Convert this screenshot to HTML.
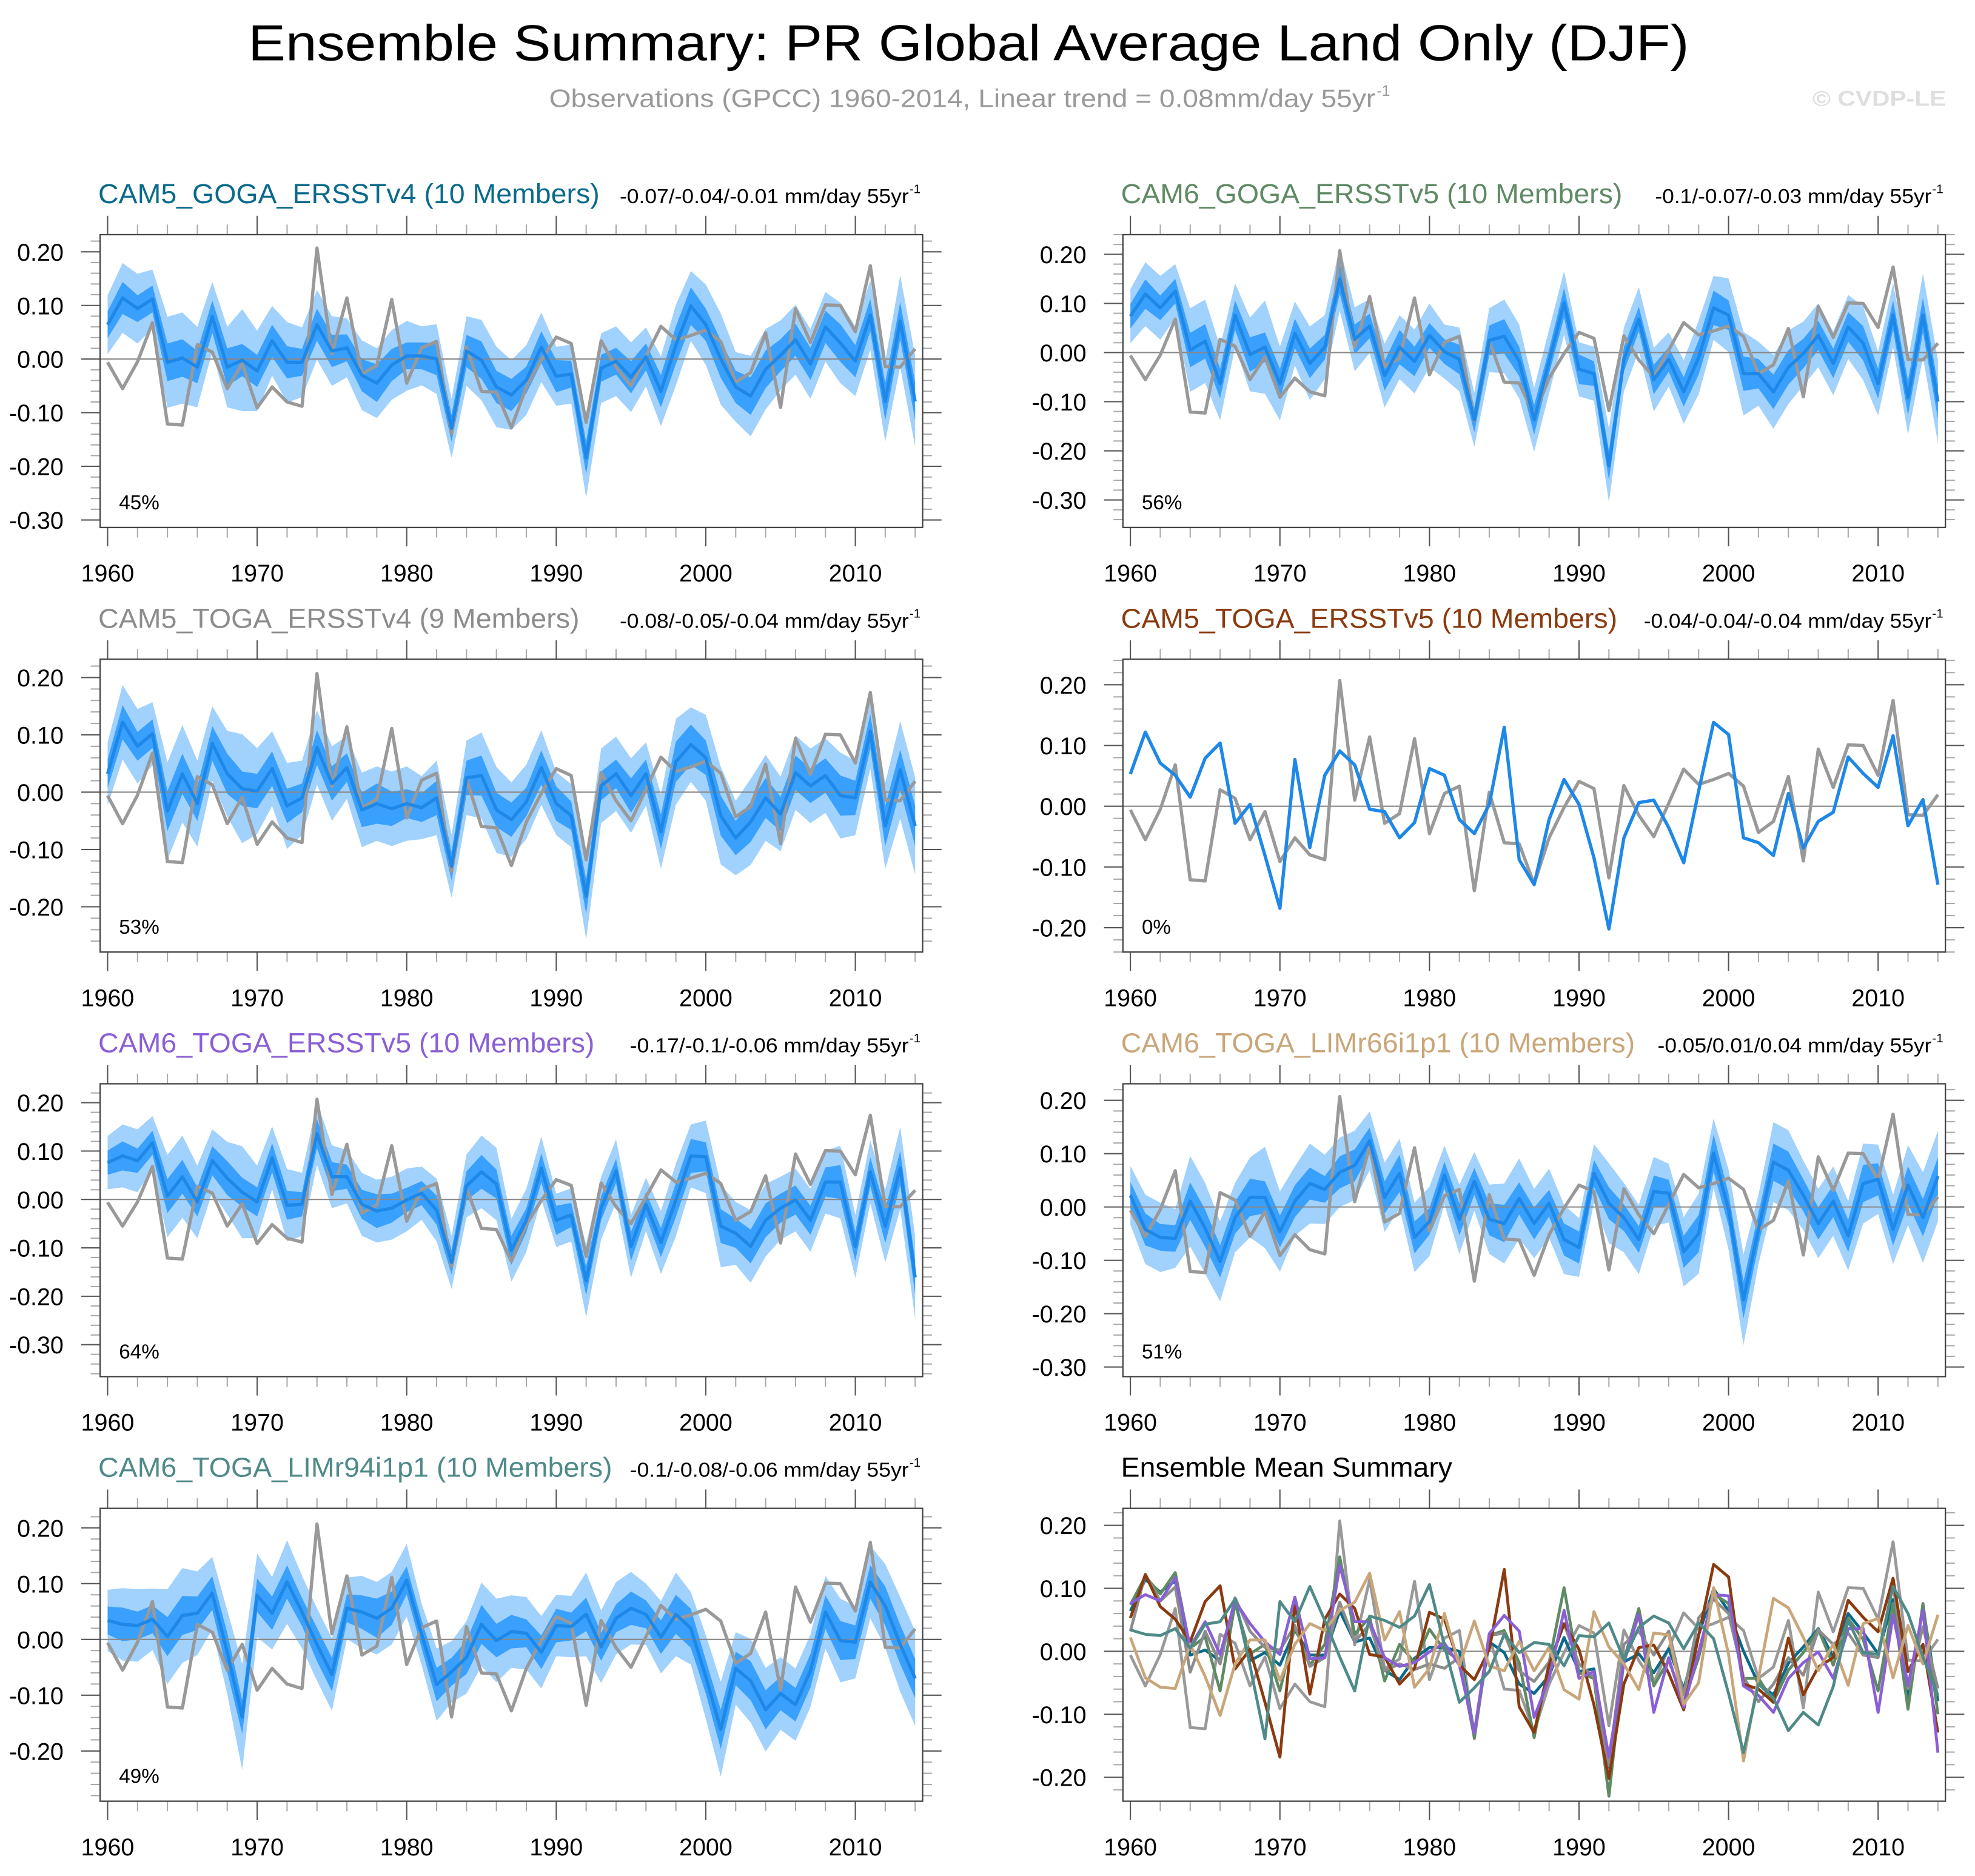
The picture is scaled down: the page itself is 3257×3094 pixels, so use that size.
<!DOCTYPE html>
<html><head><meta charset="utf-8"><title>Ensemble Summary: PR Global Average Land Only (DJF)</title>
<style>html,body{margin:0;padding:0;background:#fff;}svg{display:block;}text{font-family:"Liberation Sans",Arial,sans-serif;}</style>
</head><body>
<svg id="chart" xmlns="http://www.w3.org/2000/svg" width="3257" height="3094" viewBox="0 0 1568 1489.5" preserveAspectRatio="none">
<rect x="0" y="0" width="1568" height="1489.5" fill="#fff"/>
<text x="197" y="48" font-size="40" textLength="1144" lengthAdjust="spacingAndGlyphs" fill="#000">Ensemble Summary: PR Global Average Land Only (DJF)</text>
<text x="436" y="85" font-size="20" textLength="656" lengthAdjust="spacingAndGlyphs" fill="#999">Observations (GPCC) 1960-2014, Linear trend = 0.08mm/day 55yr</text>
<text x="1093" y="76" font-size="12" fill="#999">-1</text>
<text x="1439" y="84" font-size="17" font-weight="bold" textLength="106" lengthAdjust="spacingAndGlyphs" fill="#dedede">© CVDP-LE</text>
<g id="panels"></g>
</svg>
<script>
const years = [];
for (let y = 1960; y <= 2014; y++) years.push(y);
const obs = [-0.006,-0.055,-0.005,0.068,-0.121,-0.123,0.027,0.013,-0.055,-0.009,-0.091,-0.052,-0.08,-0.088,0.207,0.01,0.114,-0.028,-0.012,0.111,-0.045,0.021,0.033,-0.139,0.023,-0.06,-0.062,-0.128,-0.052,-0.002,0.041,0.029,-0.118,0.034,-0.015,-0.05,0.005,0.061,0.036,0.044,0.054,0.033,-0.043,-0.025,0.049,-0.09,0.094,0.031,0.101,0.1,0.051,0.174,-0.014,-0.015,0.019];
const meanCam5GogaV4 = [0.064,0.114,0.094,0.112,-0.006,0.002,-0.015,0.079,-0.015,-0.002,-0.022,0.034,-0.006,-0.006,0.064,0.015,0.021,-0.03,-0.045,-0.011,0.006,0.006,0,-0.129,0.015,-0.002,-0.052,-0.067,-0.039,0.022,-0.032,-0.028,-0.184,-0.017,-0.004,-0.034,0.004,-0.06,0.026,0.099,0.064,0,-0.052,-0.069,-0.019,0.007,0.036,-0.009,0.06,0.03,-0.004,0.082,-0.079,0.071,-0.079];
const meanCam6GogaV5 = [0.074,0.119,0.091,0.125,0.005,0.023,-0.063,0.076,-0.004,0.011,-0.063,0.039,-0.022,0.011,0.15,0.027,0.054,-0.047,0.011,-0.018,0.035,0.002,-0.014,-0.137,0.025,0.033,-0.018,-0.137,-0.018,0.101,-0.034,-0.043,-0.23,-0.014,0.068,-0.055,-0.014,-0.08,-0.01,0.091,0.076,-0.043,-0.043,-0.08,-0.03,-0.002,0.035,-0.022,0.052,0.019,-0.063,0.076,-0.092,0.076,-0.1];
const meanCam5TogaV4 = [0.032,0.122,0.08,0.102,-0.033,0.032,-0.02,0.085,0.032,0.006,0.002,0.041,-0.024,-0.01,0.078,0.015,0.043,-0.031,-0.02,-0.029,-0.02,-0.027,-0.01,-0.129,0.025,0.029,-0.031,-0.048,-0.017,0.043,-0.02,-0.041,-0.182,0.011,0.032,-0.006,0.032,-0.069,0.053,0.083,0.06,-0.041,-0.08,-0.052,-0.01,-0.038,0.034,0.011,0.029,-0.006,-0.01,0.106,-0.059,0.039,-0.059];
const meanCam5TogaV5 = [0.053,0.122,0.071,0.051,0.015,0.079,0.104,-0.028,0.003,-0.081,-0.168,0.077,-0.068,0.051,0.091,0.068,-0.005,-0.009,-0.052,-0.027,0.062,0.051,-0.022,-0.045,0.003,0.13,-0.088,-0.129,-0.022,0.044,0.003,-0.085,-0.202,-0.052,0.006,0.01,-0.035,-0.093,0.025,0.138,0.118,-0.052,-0.06,-0.081,0.021,-0.069,-0.025,-0.01,0.081,0.054,0.031,0.116,-0.032,0.011,-0.129];
const meanCam6TogaV5 = [0.076,0.09,0.08,0.117,0.007,0.047,-0.005,0.08,0.044,0.015,-0.005,0.086,-0.012,-0.01,0.136,0.047,0.047,-0.01,-0.024,-0.018,-0.001,0.013,-0.022,-0.13,0.028,0.057,0.032,-0.105,-0.043,0.065,-0.043,-0.032,-0.168,-0.018,0.059,-0.097,-0.01,-0.089,-0.001,0.09,0.088,-0.055,-0.07,-0.097,-0.043,-0.018,-0.001,-0.043,0.036,0.036,-0.097,0.057,-0.055,0.065,-0.161];
const meanLim66 = [0.022,-0.042,-0.057,-0.059,0.011,-0.04,-0.102,-0.02,0.018,0.018,-0.046,0.011,0.044,0.033,0.065,0.078,0.124,0.018,0.063,-0.057,-0.027,0.06,-0.023,0.048,-0.023,-0.031,0.016,-0.031,0.007,-0.061,-0.076,0.063,0.007,-0.02,-0.061,0.029,0.026,-0.084,-0.05,0.101,-0.005,-0.174,-0.042,0.084,0.069,0.022,-0.031,0.011,-0.054,0.044,0.052,-0.042,0.041,-0.02,0.058];
const meanLim94 = [0.034,0.027,0.025,0.036,0.005,0.043,0.047,0.083,-0.023,-0.139,0.079,0.047,0.103,0.049,-0.009,-0.063,0.056,0.049,0.038,0.056,0.106,0.009,-0.081,-0.058,-0.032,0.027,-0.002,0.014,0.011,-0.023,0.025,0.023,0.045,-0.013,0.038,0.056,0.045,0.004,0.045,0.02,-0.067,-0.161,-0.052,-0.074,-0.126,-0.097,-0.117,-0.056,0.049,-0.002,-0.005,0.103,0.06,-0.009,-0.07];
const darkHW = [0.025,0.03,0.025,0.025,0.035,0.035,0.03,0.03,0.035,0.03,0.03,0.03,0.03,0.025,0.03,0.03,0.025,0.03,0.035,0.03,0.025,0.025,0.03,0.025,0.03,0.035,0.03,0.03,0.025,0.03,0.03,0.025,0.03,0.025,0.025,0.03,0.025,0.03,0.035,0.035,0.03,0.035,0.03,0.035,0.035,0.03,0.03,0.03,0.03,0.035,0.03,0.03,0.035,0.035,0.035];
const lightHW = [0.055,0.065,0.065,0.055,0.085,0.085,0.075,0.065,0.075,0.095,0.075,0.065,0.075,0.065,0.065,0.065,0.055,0.065,0.065,0.065,0.065,0.055,0.065,0.055,0.065,0.075,0.075,0.065,0.065,0.065,0.055,0.055,0.075,0.065,0.065,0.065,0.055,0.065,0.075,0.065,0.075,0.085,0.065,0.075,0.075,0.065,0.065,0.065,0.065,0.075,0.065,0.065,0.075,0.085,0.085];
const panelTitles = ["CAM5_GOGA_ERSSTv4 (10 Members)","CAM6_GOGA_ERSSTv5 (10 Members)","CAM5_TOGA_ERSSTv4 (9 Members)","CAM5_TOGA_ERSSTv5 (10 Members)","CAM6_TOGA_ERSSTv5 (10 Members)","CAM6_TOGA_LIMr66i1p1 (10 Members)","CAM6_TOGA_LIMr94i1p1 (10 Members)","Ensemble Mean Summary"];
const panelTrends = ["-0.07/-0.04/-0.01","-0.1/-0.07/-0.03","-0.08/-0.05/-0.04","-0.04/-0.04/-0.04","-0.17/-0.1/-0.06","-0.05/0.01/0.04","-0.1/-0.08/-0.06",""];
const panelPercents = ["45%","56%","53%","0%","64%","51%","49%",""];
const yTickLabels = [0.2,0.1,0,-0.1,-0.2,-0.3];
const xTickLabels = [1960,1970,1980,1990,2000,2010];
const panelMeans = [meanCam5GogaV4,meanCam6GogaV5,meanCam5TogaV4,meanCam5TogaV5,meanCam6TogaV5,meanLim66,meanLim94];

const colors = ["#0b6a8c","#5e8a64","#8c8c8c","#8b3a0f","#8a5fd6","#c9a679","#4e8a88"];
const titleW = [398,398,382,394,394,408,408,263];
const trendStart = [492,1314,492,1305,500,1316,500];
const ranges = [[-0.314,0.232],[-0.356,0.24],[-0.279,0.232],[-0.24,0.242],[-0.366,0.239],[-0.318,0.231],[-0.29,0.235],[-0.238,0.227]];
const NS = "http://www.w3.org/2000/svg";
const root = document.getElementById('panels');
function mk(tag, attrs, parent){const e=document.createElementNS(NS,tag);for(const k in attrs)e.setAttribute(k,attrs[k]);(parent||root).appendChild(e);return e;}

for (let p = 0; p < 8; p++) {
  const col = p % 2, row = Math.floor(p / 2);
  const x0 = col ? 891.5 : 79.5, x1 = col ? 1544.5 : 732.5;
  const top = 186.3 + row * 337.1, bot = top + 232.5;
  const ymin = ranges[p][0], ymax = ranges[p][1];
  const sx = yr => x0 + (yr - 1959.5) / 55 * (x1 - x0);
  const sy = v => bot - (v - ymin) / (ymax - ymin) * (bot - top);
  const g = mk('g', {});
  
  

  const t = mk('text', {x: col ? 890 : 78, y: top - 25, 'font-size': 22, fill: p === 7 ? '#000' : colors[p], textLength: titleW[p], lengthAdjust: 'spacingAndGlyphs'}, g);
  t.textContent = panelTitles[p];
  
  
  if (panelTrends[p]) {
    const tEnd = x1 - 11;
    const tr = mk('text', {x: trendStart[p], y: top - 25, 'font-size': 16, fill: '#000', textLength: tEnd - trendStart[p], lengthAdjust: 'spacingAndGlyphs'}, g);
    tr.textContent = panelTrends[p] + ' mm/day 55yr';
    
    
    const sup = mk('text', {x: tEnd + 0.5, y: top - 33, 'font-size': 10, fill: '#000'}, g);
    sup.textContent = '-1';
    
    
  }

  for (let k = Math.ceil(ymin / 0.02 - 1e-6); k <= Math.floor(ymax / 0.02 + 1e-6); k++) {
    const v = k * 0.02, yy = sy(v);
    const major = Math.abs(k % 5) === 0;
    const L = major ? 15 : 7.5, c = major ? '#555' : '#aaa';
    mk('line', {x1: x0 - L, x2: x0, y1: yy, y2: yy, stroke: c, 'stroke-width': 1}, g);
    mk('line', {x1: x1, x2: x1 + L, y1: yy, y2: yy, stroke: c, 'stroke-width': 1}, g);
  }
  yTickLabels.forEach(v => {
    if (v < ymin || v > ymax) return;
    const lb = mk('text', {x: x0 - 29, y: sy(v) + 7, 'font-size': 19, 'text-anchor': 'end', fill: '#000'}, g);
    lb.textContent = v.toFixed(2);
    
    
  });
  for (let yr = 1960; yr <= 2014; yr += 2) {
    const xx = sx(yr), major = (yr % 10 === 0);
    const L = major ? 15 : 8, c = major ? '#555' : '#aaa';
    mk('line', {x1: xx, x2: xx, y1: bot, y2: bot + L, stroke: c, 'stroke-width': 1}, g);
    mk('line', {x1: xx, x2: xx, y1: top - L, y2: top, stroke: c, 'stroke-width': 1}, g);
  }
  xTickLabels.forEach(yr => {
    const lb = mk('text', {x: sx(yr), y: bot + 43, 'font-size': 19, 'text-anchor': 'middle', fill: '#000'}, g);
    lb.textContent = yr;
    
    
  });

  const cp = mk('clipPath', {id: 'clip' + p}, g);
  mk('rect', {x: x0, y: top, width: x1 - x0, height: bot - top}, cp);
  const plot = mk('g', {'clip-path': 'url(#clip' + p + ')'}, g);
  
  

  const linePts = arr => arr.map((v, i) => sx(years[i]).toFixed(2) + ',' + sy(v).toFixed(2)).join(' ');
  const bandPts = (arr, hw) => {
    const up = arr.map((v, i) => sx(years[i]).toFixed(2) + ',' + sy(v + hw[i]).toFixed(2));
    const dn = arr.map((v, i) => sx(years[i]).toFixed(2) + ',' + sy(v - hw[i]).toFixed(2)).reverse();
    return up.concat(dn).join(' ');
  };

  if (p < 7) {
    const m = panelMeans[p];
    if (p !== 3) {
      const lb = mk('polygon', {points: bandPts(m, lightHW), fill: '#a1d1fd'}, plot);
      
      
      const db = mk('polygon', {points: bandPts(m, darkHW), fill: '#3aa0fd'}, plot);
      
      
    }
    mk('line', {x1: x0, x2: x1, y1: sy(0), y2: sy(0), stroke: '#888', 'stroke-width': 1}, plot);
    const ol = mk('polyline', {points: linePts(obs), fill: 'none', stroke: '#999', 'stroke-width': 2.6, 'stroke-linejoin': 'round'}, plot);
    
    
    const ml = mk('polyline', {points: linePts(m), fill: 'none', stroke: '#1e88e8', 'stroke-width': 2.6, 'stroke-linejoin': 'round'}, plot);
    
    
    const pc = mk('text', {x: x0 + 15, y: bot - 14.5, 'font-size': 16, fill: '#000'}, g);
    pc.textContent = panelPercents[p];
    
    
  } else {
    mk('line', {x1: x0, x2: x1, y1: sy(0), y2: sy(0), stroke: '#888', 'stroke-width': 1}, plot);
    const ol = mk('polyline', {points: linePts(obs), fill: 'none', stroke: '#999', 'stroke-width': 2.3, 'stroke-linejoin': 'round'}, plot);
    
    
    panelMeans.forEach((m, i) => {
      const l = mk('polyline', {points: linePts(m), fill: 'none', stroke: colors[i], 'stroke-width': 2.3, 'stroke-linejoin': 'round'}, plot);
      
      
    });
  }
  const bx = mk('rect', {x: x0, y: top, width: x1 - x0, height: bot - top, fill: 'none', stroke: '#444', 'stroke-width': 1.1}, g);
  
  
}
</script>
</body></html>
